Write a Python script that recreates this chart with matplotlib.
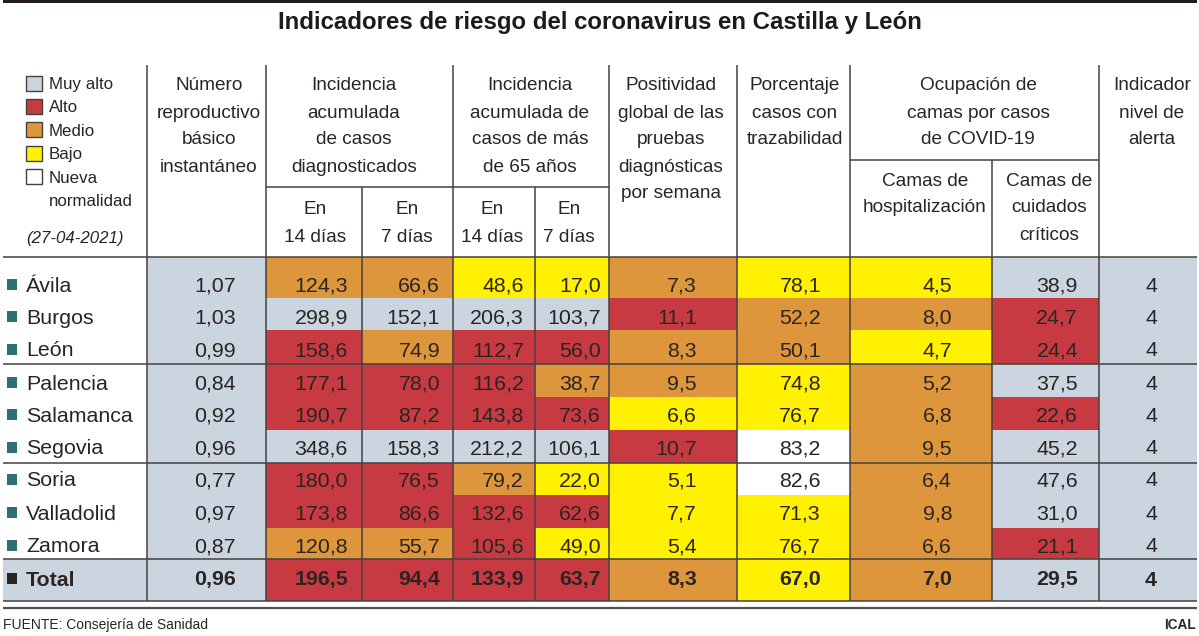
import matplotlib
matplotlib.use("Agg")
import matplotlib.pyplot as plt
from matplotlib.patches import Rectangle
from matplotlib import font_manager

installed = {f.name for f in font_manager.fontManager.ttflist}
NARROW = "Liberation Sans Narrow" in installed
plt.rcParams['font.family'] = ['Liberation Sans Narrow' if NARROW else 'Liberation Sans', 'DejaVu Sans']
K = 1.22 if NARROW else 1.0

title = "Indicadores de riesgo del coronavirus en Castilla y León"
provinces = ["Ávila", "Burgos", "León", "Palencia", "Salamanca", "Segovia",
             "Soria", "Valladolid", "Zamora", "Total"]
r0 = ["1,07", "1,03", "0,99", "0,84", "0,92", "0,96", "0,77", "0,97", "0,87", "0,96"]
ia14 = ["124,3", "298,9", "158,6", "177,1", "190,7", "348,6", "180,0", "173,8", "120,8", "196,5"]
ia7 = ["66,6", "152,1", "74,9", "78,0", "87,2", "158,3", "76,5", "86,6", "55,7", "94,4"]
ia65_14 = ["48,6", "206,3", "112,7", "116,2", "143,8", "212,2", "79,2", "132,6", "105,6", "133,9"]
ia65_7 = ["17,0", "103,7", "56,0", "38,7", "73,6", "106,1", "22,0", "62,6", "49,0", "63,7"]
posit = ["7,3", "11,1", "8,3", "9,5", "6,6", "10,7", "5,1", "7,7", "5,4", "8,3"]
traz = ["78,1", "52,2", "50,1", "74,8", "76,7", "83,2", "82,6", "71,3", "76,7", "67,0"]
hosp = ["4,5", "8,0", "4,7", "5,2", "6,8", "9,5", "6,4", "9,8", "6,6", "7,0"]
uci = ["38,9", "24,7", "24,4", "37,5", "22,6", "45,2", "47,6", "31,0", "21,1", "29,5"]
alert = ["4"] * 10

lv_r0 = list("GGGGGGGGGG")
lv_ia14 = list("OGRRRGRROR")
lv_ia7 = list("OGORRGRROR")
lv_ia65_14 = list("YGRRRGORRR")
lv_ia65_7 = list("YGRORGYRYR")
lv_posit = list("OROOYRYYYO")
lv_traz = list("YOOYYNNYYY")
lv_hosp = list("YOYOOOOOOO")
lv_uci = list("GRRGRGGGRG")
lv_alert = list("GGGGGGGGGG")

legend_labels = ["Muy alto", "Alto", "Medio", "Bajo", "Nueva"]
legend_levels = list("GROYN")

colours = {"G": "#cbd5df", "R": "#c83a42", "O": "#dd963c", "Y": "#fff100", "N": "#ffffff"}
ink = "#2a2523"
line = "#45413f"

col_edges = [147, 266, 362, 453, 535, 609, 737, 850, 992, 1099, 1197]
row_edges = [257, 298, 330, 364, 397, 430, 463, 495, 528, 559, 601]
row_centres = [284, 316, 349, 382, 414, 447, 479, 512, 545, 578]
value_cols = [r0, ia14, ia7, ia65_14, ia65_7, posit, traz, hosp, uci, alert]
level_cols = [lv_r0, lv_ia14, lv_ia7, lv_ia65_14, lv_ia65_7, lv_posit, lv_traz, lv_hosp, lv_uci, lv_alert]
text_right = [236, 348, 440, 524, 601, 697, 821, 952, 1078, 1157]

fig = plt.figure(figsize=(11.99, 6.36), dpi=100)
ax = fig.add_axes([0, 0, 1, 1])
ax.set_xlim(0, 1199)
ax.set_ylim(636, 0)
ax.axis("off")

FS = 15.4 * K
HS = 13.7 * K

# cells
ax.add_patch(Rectangle((3, row_edges[-2]), col_edges[0] - 3, row_edges[-1] - row_edges[-2],
                       fc=colours["G"], ec="none", zorder=1))
for c, (vals, lvls) in enumerate(zip(value_cols, level_cols)):
    x0, x1 = col_edges[c], col_edges[c + 1]
    for r, (v, l) in enumerate(zip(vals, lvls)):
        ax.add_patch(Rectangle((x0, row_edges[r]), x1 - x0, row_edges[r + 1] - row_edges[r],
                               fc=colours[l], ec="none", zorder=1))
        ax.text(text_right[c], row_centres[r], v, ha="right", va="center_baseline",
                fontsize=FS, color=ink, fontweight="bold" if r == 9 else "normal", zorder=3)

# province labels
for r, name in enumerate(provinces):
    mk = "#2f6f73" if r < 9 else ink
    ax.add_patch(Rectangle((6.5, row_centres[r] - 5), 10.5, 10.5, fc=mk, ec="none", zorder=3))
    ax.text(26, row_centres[r], name, ha="left", va="center_baseline", fontsize=FS,
            color=ink, fontweight="bold" if r == 9 else "normal", zorder=3)

# rules
ax.add_patch(Rectangle((3, 0), 1194, 2.5, fc="#231c18", ec="none", zorder=4))
for y in (257, 364, 463, 559, 601):
    ax.plot([3, 1197], [y, y], color=line, lw=1.1, zorder=4, solid_capstyle="butt")
ax.plot([3, 1197], [607.5, 607.5], color="#55514f", lw=1.6, zorder=4, solid_capstyle="butt")
for x in (147, 266, 453, 609, 737, 850, 1099):
    ax.plot([x, x], [65, 601], color=line, lw=1.1, zorder=4, solid_capstyle="butt")
for x in (362, 535):
    ax.plot([x, x], [187, 601], color=line, lw=1.1, zorder=4, solid_capstyle="butt")
ax.plot([992, 992], [160, 601], color=line, lw=1.1, zorder=4, solid_capstyle="butt")
ax.plot([266, 609], [187, 187], color=line, lw=1.1, zorder=4, solid_capstyle="butt")
ax.plot([850, 1099], [160, 160], color=line, lw=1.1, zorder=4, solid_capstyle="butt")

# title
ax.text(599.5, 22.5, title, ha="center", va="center", fontsize=17.3 * K, fontweight="bold", color="#1e1a18")

# headers: (centre x, first-line y, lines)
headers = [
    (209, 84, ["Número", "reproductivo", "básico", "instantáneo"]),
    (354, 84, ["Incidencia", "acumulada", "de casos", "diagnosticados"]),
    (530, 84, ["Incidencia", "acumulada de", "casos de más", "de 65 años"]),
    (671, 84, ["Positividad", "global de las", "pruebas", "diagnósticas", "por semana"]),
    (795, 84, ["Porcentaje", "casos con", "trazabilidad"]),
    (978, 84, ["Ocupación de", "camas por casos", "de COVID-19"]),
    (1152, 84, ["Indicador", "nivel de", "alerta"]),
    (315, 208, ["En", "14 días"]),
    (407, 208, ["En", "7 días"]),
    (492, 208, ["En", "14 días"]),
    (569, 208, ["En", "7 días"]),
    (925, 179, ["Camas de", "hospitalización"]),
    (1049, 179, ["Camas de", "cuidados", "críticos"]),
]
for x, y0, lines in headers:
    for i, t in enumerate(lines):
        ax.text(x, y0 + i * 27, t, ha="center", va="center_baseline", fontsize=HS, color=ink, zorder=3)

# legend
for i, (lab, lv) in enumerate(zip(legend_labels, legend_levels)):
    y = 83 + i * 23.4
    ax.add_patch(Rectangle((25.5, y - 7.5), 16.5, 15, fc=colours[lv], ec=line, lw=1.0, zorder=3))
    ax.text(49, y, lab, ha="left", va="center_baseline", fontsize=12.2 * K, color=ink, zorder=3)
ax.text(49, 200, "normalidad", ha="left", va="center_baseline", fontsize=12.2 * K, color=ink, zorder=3)
ax.text(26, 237, "(27-04-2021)", ha="left", va="center_baseline", fontsize=12.2 * K, style="italic", color=ink, zorder=3)

# footer
ax.text(3, 623.5, "FUENTE: Consejería de Sanidad", ha="left", va="center_baseline", fontsize=10 * K, color=ink)
ax.text(1196, 623.5, "ICAL", ha="right", va="center_baseline", fontsize=9.8 * K, fontweight="bold", color=ink)

fig.savefig("out.png", dpi=100)
